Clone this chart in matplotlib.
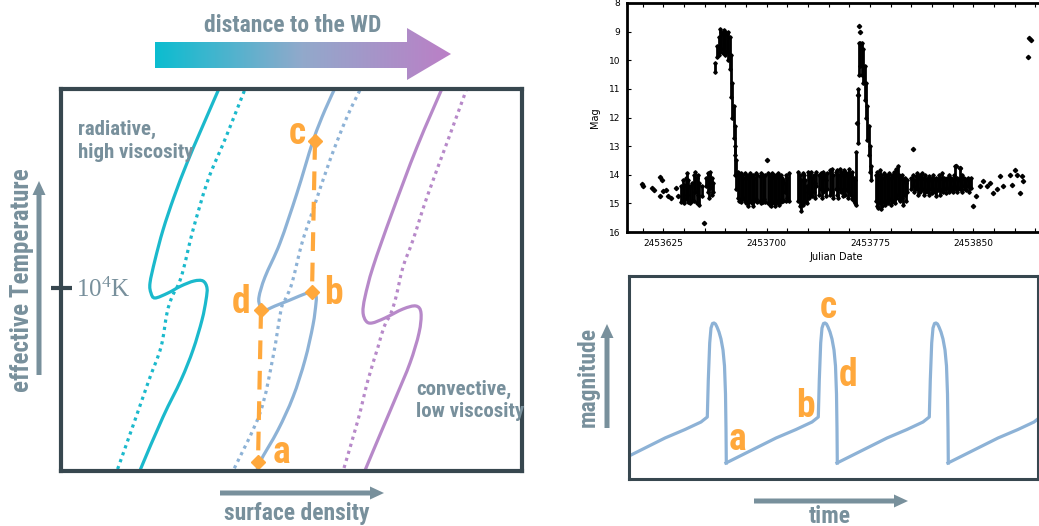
import numpy as np
import matplotlib
matplotlib.use('Agg')
import matplotlib.pyplot as plt
import matplotlib.font_manager as fm
from matplotlib.patches import Polygon, FancyArrow, PathPatch
from matplotlib.path import Path
from matplotlib.colors import LinearSegmentedColormap

W, H = 1039, 526

GRAY = '#78909c'
DARK = '#37474f'
CYAN = '#1bb9cc'
BLUE = '#8db2d6'
PURPLE = '#b789c9'
ORANGE = '#ffa83c'

# --- S-curves of the disc (surface density -> x, temperature -> y, schematic units)
cyan_x = [221, 201, 187, 174, 163, 155, 150, 151, 155, 168, 181, 194, 203, 207, 206, 202, 193, 181, 163, 141, 138]
cyan_y = [84, 130, 163, 197, 230, 260, 283, 293, 298, 293, 286, 281, 281, 288, 300, 320, 350, 380, 417, 468, 476]
blue_x = [337, 325, 313, 297, 280, 265, 259, 260, 263, 275, 290, 307, 313, 316, 316, 313, 305, 293, 278, 260, 256]
blue_y = [84, 110, 141, 193, 243, 277, 297, 306, 311, 306, 300, 293, 292, 296, 303, 325, 360, 397, 430, 462, 476]
purple_x = [444, 417, 392, 373, 365, 363, 366, 372, 385, 403, 416, 421, 419, 410, 396, 382, 366, 363]
purple_y = [84, 147, 213, 267, 297, 312, 321, 323, 318, 309, 306, 313, 333, 363, 397, 430, 468, 476]

cyan_dot_x = [247, 226, 208, 193, 184, 179, 172, 167, 161, 149, 135, 118, 115]
cyan_dot_y = [84, 137, 180, 230, 267, 283, 297, 313, 347, 380, 420, 468, 476]
blue_dot_x = [363, 347, 330, 313, 302, 292, 285, 281, 273, 260, 233, 231]
blue_dot_y = [84, 117, 160, 210, 243, 283, 300, 310, 357, 413, 471, 476]
purple_dot_x = [467, 448, 427, 413, 403, 396, 391, 384, 378, 368, 358, 344, 342]
purple_dot_y = [88, 140, 197, 240, 267, 297, 313, 327, 347, 380, 420, 468, 476]

# limit cycle jumps: c -> b and d -> a
jump1_x, jump1_y = [315, 312], [141, 292]
jump2_x, jump2_y = [261, 258], [310, 462]
cycle_labels = ['c', 'b', 'd', 'a']
cycle_lab_x = [297, 333, 241, 281]
cycle_lab_y = [144, 304, 313, 463]

# --- observed light curve (JD - 2453600, magnitude)
JD0 = 2453600
night_t = [38, 39, 40, 41, 42, 43, 44, 46, 47, 48, 49, 50, 51, 53, 56, 57, 58, 59, 60, 61,
           62.5, 64, 65, 66, 67, 68, 69, 70, 71, 72, 73, 74, 75, 76, 76.6, 77.2, 78,
           79, 80, 81, 82, 83, 84, 85, 86, 87, 88, 89, 90, 91, 92, 93, 95, 96, 97, 98, 99,
           101, 102, 103, 104, 105, 106, 107, 108, 109, 110, 111, 112, 113, 114, 115, 116,
           123, 124, 125, 126, 127, 128, 129, 130, 131, 132, 133, 134, 135, 136, 138, 139, 140,
           141, 142, 143, 144, 146, 147, 148, 150, 151, 152, 153, 154, 155, 156, 157, 158, 159,
           160, 161, 162, 163, 164, 165,
           166.5, 167.3, 168, 169, 170, 171, 172, 173, 174, 175, 176,
           179, 180, 181, 182, 183, 184, 185, 186, 187, 188, 189, 190, 191, 192, 193, 194, 195,
           196, 197, 198, 199, 200, 201, 202,
           205, 206, 207, 208, 209, 210, 211, 212, 213, 214, 215, 216, 217, 218, 219, 220, 221,
           222, 223, 224, 225, 226, 227, 228, 229, 230, 231, 232, 233, 234, 235, 236, 237, 238,
           239, 240, 241, 242, 243, 244, 245, 246, 247, 248]
night_lo = [14.4, 14.2, 14.35, 14.1, 13.95, 14.2, 14.4, 14.3, 14.0, 13.9, 14.1, 14.0, 14.3, 14.4, 14.1, 13.95, 14.0, 13.9, 14.1, 14.3,
            10.1, 9.5, 9.2, 8.9, 9.0, 9.1, 8.95, 9.0, 9.1, 9.0, 9.2, 9.8, 10.8, 11.6, 12.3, 13.0, 13.5,
            13.9, 14.0, 13.95, 14.0, 14.1, 13.95, 14.0, 14.1, 14.0, 13.95, 14.05, 14.0, 14.1, 13.95, 14.0, 14.05, 13.95, 14.0, 14.05, 14.0,
            13.95, 14.0, 14.05, 13.95, 14.0, 14.1, 14.0, 13.95, 14.05, 14.0, 14.1, 14.2, 14.3, 14.0, 14.1, 13.95,
            13.9, 14.0, 14.2, 13.95, 14.0, 14.2, 14.4, 13.9, 14.0, 13.9, 14.1, 14.0, 14.3, 13.9, 14.0, 13.95, 14.1,
            13.9, 14.0, 14.2, 13.95, 13.85, 13.8, 14.0, 13.9, 13.85, 14.0, 13.8, 13.9, 14.0, 13.85, 13.9, 14.0, 13.95,
            13.8, 14.0, 13.9, 14.1, 14.2, 13.2,
            11.0, 9.4, 9.4, 9.4, 9.6, 10.2, 10.8, 11.6, 12.3, 13.0, 13.7,
            14.0, 13.9, 14.0, 13.85, 14.0, 14.1, 13.95, 14.0, 14.05, 14.0, 13.95, 14.1, 14.0, 13.9, 14.05, 13.8, 13.7,
            14.0, 14.1, 14.0, 14.2, 14.1, 14.3, 14.2,
            14.1, 14.0, 14.2, 14.05, 13.95, 14.1, 14.0, 14.15, 13.95, 14.1, 14.0, 14.2, 14.1, 14.05, 14.2, 14.1, 14.0,
            14.15, 14.1, 14.2, 14.0, 14.1, 13.95, 14.15, 14.1, 14.2, 14.1, 14.0, 14.15, 14.1, 14.2, 14.0, 13.7, 14.1,
            14.2, 13.75, 14.1, 14.0, 14.1, 14.15, 14.2, 14.1, 14.2, 14.1]
night_hi = [14.95, 14.9, 15.0, 14.85, 14.7, 14.95, 15.0, 14.9, 14.9, 14.6, 15.0, 14.7, 15.05, 14.75, 14.4, 14.6, 14.8, 14.45, 14.7, 14.6,
            10.4, 9.9, 9.8, 9.7, 9.6, 9.75, 9.7, 9.8, 9.7, 10.0, 10.3, 11.3, 12.0, 12.7, 13.3, 14.0, 14.5,
            14.8, 14.9, 14.95, 14.85, 14.8, 14.9, 15.0, 15.1, 14.95, 14.9, 15.0, 15.1, 14.9, 14.85, 14.95, 14.9, 15.0, 14.95, 14.85, 14.95,
            15.0, 15.05, 15.1, 15.0, 14.95, 15.1, 15.0, 14.9, 15.05, 14.95, 14.85, 14.9, 14.6, 14.9, 14.8, 14.9,
            14.9, 15.1, 15.25, 15.05, 14.9, 14.95, 15.0, 14.6, 14.8, 14.7, 14.75, 14.6, 14.8, 14.4, 14.7, 14.5, 14.8,
            14.6, 14.55, 14.75, 14.5, 14.7, 14.6, 14.8, 14.5, 14.7, 14.8, 14.5, 14.6, 14.75, 14.5, 14.7, 14.55, 14.8,
            14.6, 14.7, 14.85, 14.9, 15.0, 15.05,
            12.9, 10.5, 10.2, 10.5, 10.8, 11.4, 12.0, 12.8, 13.3, 13.9, 14.2,
            14.9, 15.1, 15.15, 15.0, 15.2, 15.1, 14.95, 15.05, 14.9, 15.0, 14.85, 15.05, 14.9, 14.95, 15.0, 14.8, 14.7,
            14.85, 14.9, 14.8, 15.05, 14.7, 14.9, 14.6,
            14.5, 14.4, 14.6, 14.5, 14.45, 14.7, 14.6, 14.55, 14.5, 14.7, 14.6, 14.55, 14.6, 14.7, 14.5, 14.65, 14.5,
            14.6, 14.75, 14.55, 14.5, 14.7, 14.55, 14.6, 14.5, 14.65, 14.45, 14.6, 14.55, 14.5, 14.6, 14.4, 14.5, 14.6,
            14.45, 14.5, 14.5, 14.6, 14.4, 14.5, 14.55, 14.4, 14.6, 14.45]
pt_t = [9.3, 10.0, 16.5, 18.2, 22.1, 23.8, 22.6, 25.0, 26.9, 28.6, 30.3, 34.2, 35.2, 54.2,
        100.2, 165.6, 166.0, 167.2, 167.5, 206.4, 237.5, 240.2,
        249.9, 252.0, 254.8, 257.0, 259.6, 262.0, 264.5, 267.0, 269.3, 271.7, 276.6, 277.8,
        280.2, 281.4, 283.8, 285.0, 286.3, 289.5, 290.7, 291.9]
pt_mag = [14.34, 14.38, 14.46, 14.52, 14.08, 14.17, 14.75, 14.58, 14.52, 14.75, 14.8, 14.47, 14.75, 15.68,
          13.5, 12.2, 11.2, 8.8, 9.0, 13.09, 13.7, 13.75,
          15.1, 14.75, 14.4, 14.23, 14.4, 14.3, 14.63, 14.5, 14.05, 14.4, 14.0, 14.35,
          13.82, 14.0, 14.63, 14.05, 14.23, 9.9, 9.22, 9.3]
jd_ticks = [2453625, 2453700, 2453775, 2453850]

# --- schematic light curve: one outburst cycle (time, brightness), repeated
cycle_dt = [0, 25, 50, 70, 86, 92.3, 93.3, 94.7, 96.0, 97.5, 99.0, 100.5, 102, 104, 106, 108, 109.5, 110.5, 111, 111.3]
cycle_b = [16, 28.5, 41, 49.5, 57, 62, 99, 136, 151, 155.5, 156, 155, 152, 147, 140, 129, 113, 85, 50, 16]
cycle_start = [0, 111, 222, 333]


def pick_font(names):
    for n in names:
        try:
            fm.findfont(fm.FontProperties(family=n), fallback_to_default=False)
            return n
        except ValueError:
            pass
    return 'DejaVu Sans'


COND = pick_font(['Liberation Sans Narrow', 'Roboto Condensed', 'Open Sans Condensed', 'DejaVu Sans'])
lab = dict(family=COND, stretch='condensed', weight='bold', color=GRAY)
olab = dict(family=COND, stretch='condensed', weight='bold', color=ORANGE, fontsize=27)


def px(x0, y0, x1, y1):
    return [x0 / W, 1 - y1 / H, (x1 - x0) / W, (y1 - y0) / H]


def smooth_path(xs, ys):
    p = np.column_stack([xs, ys]).astype(float)
    verts, codes = [p[0]], [Path.MOVETO]
    for i in range(len(p) - 1):
        p0 = p[i - 1] if i > 0 else p[i]
        p3 = p[i + 2] if i + 2 < len(p) else p[i + 1]
        verts += [p[i] + (p[i + 1] - p0) / 6, p[i + 1] - (p3 - p[i]) / 6, p[i + 1]]
        codes += [Path.CURVE4] * 3
    return Path(verts, codes)


fig = plt.figure(figsize=(W / 100, H / 100), dpi=100)

# ---------------- left: S-curves
ax1 = fig.add_axes(px(61, 89, 522, 471))
ax1.set_xlim(61, 522)
ax1.set_ylim(471, 89)
ax1.set_xticks([])
ax1.set_yticks([])
for s in ax1.spines.values():
    s.set_color(DARK)
    s.set_linewidth(3)

for xs, ys, c in [(cyan_x, cyan_y, CYAN), (blue_x, blue_y, BLUE), (purple_x, purple_y, PURPLE)]:
    ax1.add_patch(PathPatch(smooth_path(xs, ys), fill=False, ec=c, lw=2.3, capstyle='round'))
for xs, ys, c in [(cyan_dot_x, cyan_dot_y, CYAN), (blue_dot_x, blue_dot_y, BLUE), (purple_dot_x, purple_dot_y, PURPLE)]:
    ax1.add_patch(PathPatch(smooth_path(xs, ys), fill=False, ec=c, lw=2.3, ls=(0, (1, 1.3))))

for xs, ys in [(jump1_x, jump1_y), (jump2_x, jump2_y)]:
    ax1.plot(xs, ys, color=ORANGE, lw=3, ls=(0, (4.5, 2.8)))
    ax1.plot(xs, ys, 'D', color=ORANGE, ms=7, ls='none')

ax1.text(78, 135, 'radiative,', ha='left', va='baseline', fontsize=15, **lab)
ax1.text(78, 158, 'high viscosity', ha='left', va='baseline', fontsize=15, **lab)
ax1.text(416, 395, 'convective,', ha='left', va='baseline', fontsize=15, **lab)
ax1.text(416, 417, 'low viscosity', ha='left', va='baseline', fontsize=15, **lab)

# ---------------- top right: observed light curve
ax2 = fig.add_axes(px(627, 3, 1045, 232))
jd_n = np.array(night_t) + JD0
ax2.vlines(jd_n, night_lo, night_hi, color='k', lw=2.0)
ax2.plot(jd_n, night_lo, 'kD', ms=1.8, ls='none')
ax2.plot(jd_n, night_hi, 'kD', ms=1.8, ls='none')
ax2.plot(np.array(pt_t) + JD0, pt_mag, 'kD', ms=2.2, ls='none')
ax2.set_xlim(2453598.5, 2453902)
ax2.set_ylim(16, 8)
ax2.set_xticks(jd_ticks)
ax2.set_xticklabels([str(j) for j in jd_ticks])
ax2.set_xticks(np.arange(2453610, 2453900, 15), minor=True)
ax2.set_yticks(range(8, 17))
ax2.tick_params(direction='in', top=True, right=True, labelsize=6.5, length=3, width=0.8, pad=5)
ax2.tick_params(which='minor', direction='in', top=True, length=3, width=0.8)
for s in ax2.spines.values():
    s.set_linewidth(2)
ax2.set_xlabel('Julian Date', fontsize=7, labelpad=3)
ax2.set_ylabel('Mag', fontsize=7, labelpad=6)

# ---------------- bottom right: schematic light curve
ax3 = fig.add_axes(px(629, 276, 1038, 479))
for t0 in cycle_start:
    ax3.plot(np.array(cycle_dt) + t0, cycle_b, color=BLUE, lw=2.3, solid_joinstyle='round')
ax3.set_xlim(14, 423)
ax3.set_ylim(0, 203)
ax3.set_xticks([])
ax3.set_yticks([])
for s in ax3.spines.values():
    s.set_color(DARK)
    s.set_linewidth(2.2)

# overlay in pixel coordinates for arrows and free text, on top of everything
ov = fig.add_axes([0, 0, 1, 1], zorder=10)
ov.set_axis_off()
ov.patch.set_alpha(0)

# gradient arrow "distance to the WD"
arrow_poly = Polygon([(155, 42), (407, 42), (407, 28), (451, 54), (407, 80), (407, 68), (155, 68)],
                     closed=True, fc='none', ec='none', joinstyle='round')
ov.add_patch(arrow_poly)
grad = LinearSegmentedColormap.from_list('wd', ['#0bbdd0', '#92a9cb', '#bb7fc6'])
im = ov.imshow(np.linspace(0, 1, 256)[None, :], cmap=grad, extent=(155, 451, 80, 28), aspect='auto')
im.set_clip_path(arrow_poly)
ov.text(293, 32, 'distance to the WD', ha='center', va='baseline', fontsize=17, **lab)

# axis arrows
for x, y, dx, dy in [(39, 375, 0, -194), (220, 493, 164, 0), (607, 428, 0, -104), (754, 501, 154, 0)]:
    ov.add_patch(FancyArrow(x, y, dx, dy, width=5, head_width=13, head_length=14,
                            length_includes_head=True, color=GRAY, lw=0))
ov.text(22, 280, 'effective Temperature', rotation=90, ha='center', va='center', fontsize=18, **lab)
ov.text(297, 520, 'surface density', ha='center', va='baseline', fontsize=17, **lab)
ov.text(588, 377, 'magnitude', rotation=90, ha='center', va='center', fontsize=17, **lab)
ov.text(830, 523, 'time', ha='center', va='baseline', fontsize=17, **lab)

# 10^4 K tick
ov.plot([51, 72], [288, 288], color=DARK, lw=3, solid_capstyle='butt')
ov.text(76, 297, r'$\mathregular{10^4}$K', family='Liberation Serif', color=GRAY, fontsize=18, va='baseline')

# cycle stage labels
for t, x, y in zip(cycle_labels, cycle_lab_x, cycle_lab_y):
    ov.text(x, y, t, ha='center', va='baseline', **olab)
for t, x, y in zip(['a', 'b', 'c', 'd'], [738, 805, 828, 848], [450, 417, 318, 386]):
    ov.text(x, y, t, ha='center', va='baseline', **olab)

ov.set_xlim(0, W)
ov.set_ylim(H, 0)

fig.savefig('out.png', dpi=100)
